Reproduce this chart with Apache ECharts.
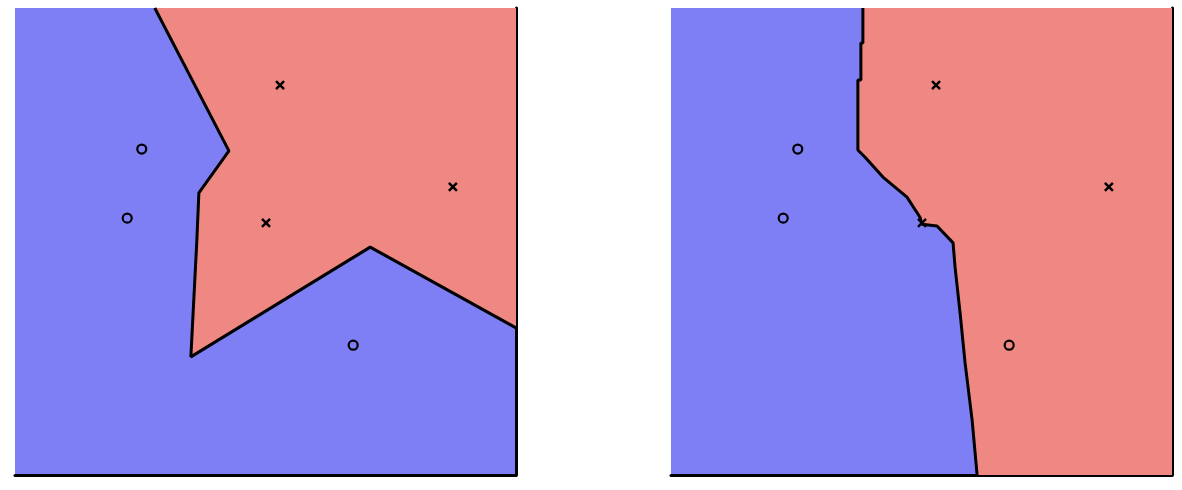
<!DOCTYPE html>
<html>
<head>
<meta charset="utf-8">
<script src="https://cdn.jsdelivr.net/npm/echarts@6/dist/echarts.min.js"></script>
<style>html,body{margin:0;padding:0;background:#fff}#c{width:1182px;height:490px}</style>
</head>
<body>
<div id="c"></div>
<script>
// Training points (same in both panels), data units 0..100
const crossPoints = [[52.9, 83.5], [50.1, 54.0], [87.4, 61.7]];
const circlePoints = [[25.3, 69.8], [22.4, 55.0], [67.5, 27.8]];

// Decision boundary, left panel (from top edge to right edge)
const leftBoundary = [[27.9, 100], [42.7, 69.4], [36.7, 60.4], [36.3, 50.3], [35.1, 25.3], [70.9, 48.8], [100, 31.5]];
const leftRedCorners = [[100, 100]];

// Decision boundary, right panel (from top edge to bottom edge)
const rightBoundary = [[38.3, 100], [38.3, 92.5], [37.9, 92.5], [37.9, 84.6], [37.3, 84.6], [37.3, 69.6], [38.7, 68.1],
  [42.3, 63.8], [47.1, 59.5], [49.7, 55.2], [50.1, 53.7], [53.1, 53.3], [56.3, 49.7], [56.7, 44.5],
  [57.7, 34.7], [58.7, 24.0], [60.1, 11.8], [61.1, 0]];
const rightRedCorners = [[100, 0], [100, 100]];

const BLUE = '#7f7ff5', RED = '#ef8782';

const chart = echarts.init(document.getElementById('c'));

function regionSeries(idx, pts) {
  return {
    type: 'custom', xAxisIndex: idx, yAxisIndex: idx, z: 1, silent: true,
    data: [0],
    renderItem: function (params, api) {
      return { type: 'polygon', shape: { points: pts.map(p => api.coord(p)) }, style: { fill: RED } };
    }
  };
}
function boundarySeries(idx, pts) {
  return { type: 'line', xAxisIndex: idx, yAxisIndex: idx, z: 3, data: pts, showSymbol: false, symbol: 'none',
    lineStyle: { color: '#000', width: 3 }, silent: true, animation: false };
}
function pointSeries(idx) {
  return [
    { type: 'scatter', xAxisIndex: idx, yAxisIndex: idx, z: 5, data: circlePoints, symbol: 'circle', symbolSize: 9,
      itemStyle: { color: 'rgba(0,0,0,0)', borderColor: '#000', borderWidth: 2.2, opacity: 1 } },
    { type: 'scatter', xAxisIndex: idx, yAxisIndex: idx, z: 5, data: crossPoints, symbol: 'path://M0,0L10,10M10,0L0,10', symbolSize: 8,
      itemStyle: { color: 'rgba(0,0,0,0)', borderColor: '#000', borderWidth: 2.5, opacity: 1 } }
  ];
}
function axisX(idx) {
  return { type: 'value', gridIndex: idx, min: 0, max: 100, position: 'bottom',
    axisLine: { show: true, onZero: false, lineStyle: { color: '#000', width: 3 } },
    axisTick: { show: false }, axisLabel: { show: false }, splitLine: { show: false } };
}
function axisY(idx) {
  return { type: 'value', gridIndex: idx, min: 0, max: 100, position: 'right',
    axisLine: { show: true, onZero: false, lineStyle: { color: '#000', width: 3 } },
    axisTick: { show: false }, axisLabel: { show: false }, splitLine: { show: false } };
}

chart.setOption({
  animation: false,
  grid: [
    { left: 15, top: 8, width: 501, height: 467, show: true, backgroundColor: BLUE, borderWidth: 0 },
    { left: 671, top: 8, width: 501, height: 467, show: true, backgroundColor: BLUE, borderWidth: 0 }
  ],
  xAxis: [axisX(0), axisX(1)],
  yAxis: [axisY(0), axisY(1)],
  series: [
    regionSeries(0, leftBoundary.concat(leftRedCorners)),
    regionSeries(1, rightBoundary.concat(rightRedCorners)),
    boundarySeries(0, leftBoundary),
    boundarySeries(1, rightBoundary)
  ].concat(pointSeries(0), pointSeries(1))
});
</script>
</body>
</html>
